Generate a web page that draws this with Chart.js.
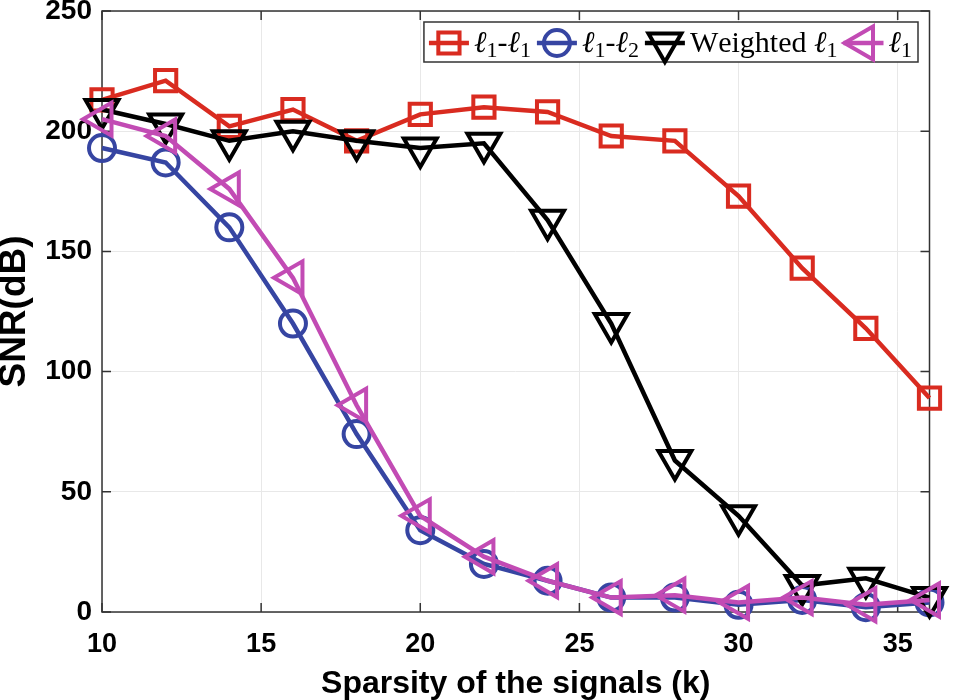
<!DOCTYPE html>
<html>
<head>
<meta charset="utf-8">
<script src="https://cdn.jsdelivr.net/npm/chart.js@4/dist/chart.umd.min.js"></script>
<style>
  body { margin: 0; background: #fff; }
  canvas { display: block; }
</style>
</head>
<body>
<canvas id="snrChart" width="960" height="700"></canvas>
<script>
// sparsity k
const sparsity = [10, 12, 14, 16, 18, 20, 22, 24, 26, 28, 30, 32, 34, 36];

// SNR (dB)
const snrL1L1     = [213, 221, 202, 209, 196, 207, 210, 208, 198, 196, 173, 143, 118, 89];
const snrL1L2     = [193, 187, 160, 120, 74, 34, 20, 13, 6, 6, 3, 5, 2, 4];
const snrWeighted = [209, 203, 196, 200, 196, 193, 195, 163, 120, 63, 40, 11, 14, 6];
const snrL1       = [205, 198, 176, 139, 86, 40, 23, 13, 6, 7, 4, 6, 3, 5];

const seriesNames = ['ℓ₁-ℓ₁', 'ℓ₁-ℓ₂', 'Weighted ℓ₁', 'ℓ₁'];
const xTicks = [10, 15, 20, 25, 30, 35];
const yTicks = [0, 50, 100, 150, 200, 250];

const axisColor = '#333333';

function makeSeries(label, values, color, style, radius, rotation, order) {
    return {
        label: label,
        data: sparsity.map((k, i) => ({ x: k, y: values[i] })),
        borderColor: color,
        borderWidth: 4.5,
        pointStyle: style,
        pointRadius: radius,
        pointRotation: rotation,
        pointBorderColor: color,
        pointBackgroundColor: 'rgba(0,0,0,0)',
        pointBorderWidth: 4,
        tension: 0,
        clip: false,
        order: order
    };
}

const datasets = [
    makeSeries(seriesNames[0], snrL1L1, '#D92B20', 'rect', 15, 0, 4),
    makeSeries(seriesNames[1], snrL1L2, '#3645A2', 'circle', 13, 0, 3),
    makeSeries(seriesNames[2], snrWeighted, '#000000', 'triangle', 19, 180, 2),
    makeSeries(seriesNames[3], snrL1, '#C24BB4', 'triangle', 19, 270, 1)
];

// axes box + inward tick marks, drawn under the data like matlab
const boxPlugin = {
    id: 'boxPlugin',
    beforeDatasetsDraw(chart) {
        const ctx = chart.ctx;
        const a = chart.chartArea;
        const xs = chart.scales.x, ys = chart.scales.y;
        const tl = 9;
        ctx.save();
        ctx.strokeStyle = axisColor;
        ctx.lineWidth = 1.5;
        ctx.beginPath();
        xTicks.forEach(v => {
            const px = xs.getPixelForValue(v);
            ctx.moveTo(px, a.bottom); ctx.lineTo(px, a.bottom - tl);
            ctx.moveTo(px, a.top); ctx.lineTo(px, a.top + tl);
        });
        yTicks.forEach(v => {
            const py = ys.getPixelForValue(v);
            ctx.moveTo(a.left, py); ctx.lineTo(a.left + tl, py);
            ctx.moveTo(a.right, py); ctx.lineTo(a.right - tl, py);
        });
        ctx.stroke();
        ctx.strokeRect(a.left, a.top, a.right - a.left, a.bottom - a.top);
        ctx.restore();
    }
};

// draws text where ℓ is italic and ₁ ₂ become smaller lowered digits
function drawMathText(ctx, text, x, y, size, measureOnly) {
    const subs = { '₁': '1', '₂': '2' };
    const fam = '"Liberation Serif", "DejaVu Serif", serif';
    let cx = x;
    for (const ch of text) {
        let s = ch, yy = y;
        if (subs[ch]) {
            ctx.font = Math.round(size * 0.72) + 'px ' + fam;
            s = subs[ch];
            yy = y + 5;
        } else if (ch === 'ℓ') {
            ctx.font = 'italic ' + size + 'px ' + fam;
        } else {
            ctx.font = size + 'px ' + fam;
        }
        if (!measureOnly) ctx.fillText(s, cx, yy);
        cx += ctx.measureText(s).width;
    }
    return cx - x;
}

const legendPlugin = {
    id: 'matlabLegend',
    afterDraw(chart) {
        const ctx = chart.ctx;
        const a = chart.chartArea;
        const size = 30;
        const markW = 46, gap = 5, padL = 4, padR = 6;
        ctx.save();
        const widths = chart.data.datasets.map(ds => drawMathText(ctx, ds.label, 0, 0, size, true));
        const boxW = padL + widths.reduce((s, w) => s + markW + w + gap, 0) - gap + padR;
        const boxH = 40;
        const bx = a.right - 11.5 - boxW;
        const by = a.top + 11;
        ctx.fillStyle = '#fff';
        ctx.fillRect(bx, by, boxW, boxH);
        ctx.strokeStyle = axisColor;
        ctx.lineWidth = 1.5;
        ctx.strokeRect(bx, by, boxW, boxH);

        const cy = by + boxH / 2 + 1;
        let x = bx + padL;
        chart.data.datasets.forEach((ds, i) => {
            const mx = x + 21;
            ctx.strokeStyle = ds.borderColor;
            ctx.lineWidth = ds.borderWidth;
            ctx.beginPath();
            ctx.moveTo(mx - 20, cy);
            ctx.lineTo(mx + 20, cy);
            ctx.stroke();
            ctx.fillStyle = 'rgba(0,0,0,0)';
            ctx.lineWidth = ds.pointBorderWidth;
            Chart.helpers.drawPoint(ctx, {
                pointStyle: ds.pointStyle,
                rotation: ds.pointRotation,
                radius: ds.pointRadius,
                borderWidth: ds.pointBorderWidth
            }, mx, cy);
            ctx.fillStyle = '#000';
            ctx.textBaseline = 'alphabetic';
            drawMathText(ctx, ds.label, x + markW, cy + 9, size, false);
            x += markW + widths[i] + gap;
        });
        ctx.restore();
    }
};

const ctx = document.getElementById('snrChart').getContext('2d');
const snrChart = new Chart(ctx, {
    type: 'line',
    data: { datasets: datasets },
    options: {
        responsive: false,
        animation: false,
        layout: { autoPadding: false, padding: { top: 11, right: 30.5, bottom: 0, left: 0 } },
        plugins: {
            legend: { display: false },
            tooltip: { enabled: false }
        },
        scales: {
            x: {
                type: 'linear',
                min: 10,
                max: 36,
                afterBuildTicks: scale => { scale.ticks = xTicks.map(v => ({ value: v })); },
                afterFit: scale => {
                    scale.height = 88;
                    scale.paddingLeft = 0;
                    scale.paddingRight = 0;
                },
                grid: { color: '#e8e8e8', lineWidth: 1, drawTicks: false },
                border: { display: false },
                ticks: {
                    padding: 16,
                    color: '#000',
                    font: { family: '"Liberation Sans", Arial, sans-serif', size: 27, weight: 'bold' },
                    maxRotation: 0
                },
                title: {
                    display: true,
                    text: 'Sparsity of the signals (k)',
                    color: '#000',
                    padding: 0,
                    font: { family: '"Liberation Sans", Arial, sans-serif', size: 32, weight: 'bold', lineHeight: 1 }
                }
            },
            y: {
                min: 0,
                max: 250,
                afterBuildTicks: scale => { scale.ticks = yTicks.map(v => ({ value: v })); },
                afterFit: scale => {
                    scale.width = 102;
                    scale.paddingTop = 0;
                    scale.paddingBottom = 0;
                },
                grid: { color: '#e8e8e8', lineWidth: 1, drawTicks: false },
                border: { display: false },
                ticks: {
                    padding: 10,
                    color: '#000',
                    font: { family: '"Liberation Sans", Arial, sans-serif', size: 28, weight: 'bold' }
                },
                title: {
                    display: true,
                    text: 'SNR(dB)',
                    color: '#000',
                    padding: 0,
                    font: { family: '"Liberation Sans", Arial, sans-serif', size: 37, weight: 'bold', lineHeight: 0.8 }
                }
            }
        }
    },
    plugins: [boxPlugin, legendPlugin]
});
</script>
</body>
</html>
